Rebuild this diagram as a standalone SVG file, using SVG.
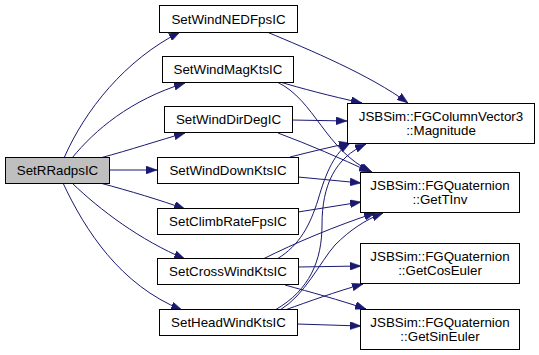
<svg xmlns="http://www.w3.org/2000/svg" width="539" height="355" viewBox="0 0 539 355">
  <style>
    .node rect { fill: #ffffff; stroke: #000000; stroke-width: 1; }
    .node.root rect { fill: #bfbfbf; }
    .node text { font-family: "Liberation Sans", Arial, sans-serif; font-size: 13.33px; fill: #000000; text-anchor: middle; }
    .edges path { fill: none; stroke: #191970; stroke-width: 1; marker-end: url(#arrow); }
  </style>
  <defs>
    <marker id="arrow" markerUnits="userSpaceOnUse" markerWidth="11" markerHeight="8" refX="11" refY="4" orient="auto">
      <path d="M0,0 L11,4 L0,8 Z" fill="#191970" stroke="#191970" stroke-width="0.5"/>
    </marker>
  </defs>
  <rect width="539" height="355" fill="#ffffff"/>

  <g class="edges">
    <!-- SetRRadpsIC callees -->
    <path d="M64,158 C85,110 125,60 180,32"/>
    <path d="M72,158 C95,130 130,100 185,83"/>
    <path d="M100,158 C130,150 160,140 185,133"/>
    <path d="M109,170 L157,170"/>
    <path d="M100,183 C130,191 160,200 185,209"/>
    <path d="M72,183 C100,210 140,240 185,259"/>
    <path d="M63,183 C85,230 120,285 182,310"/>
    <!-- SetWindNEDFpsIC -->
    <path d="M267,32 C310,50 370,75 408,103"/>
    <!-- SetWindMagKtsIC -->
    <path d="M280,82 C300,88 330,96 362,103"/>
    <path d="M277,82 C315,100 325,150 372,172"/>
    <!-- SetWindDirDegIC -->
    <path d="M292,120 L347,121"/>
    <path d="M278,133 C310,145 340,158 370,172"/>
    <!-- SetWindDownKtsIC -->
    <path d="M290,157 C310,152 330,147 350,143"/>
    <path d="M298,177 L361,183"/>
    <!-- SetClimbRateFpsIC -->
    <path d="M298,212 L361,202"/>
    <!-- SetCrossWindKtsIC -->
    <path d="M263,259 C295,243 335,226 375,213"/>
    <path d="M277,259 C300,245 310,225 318,200 C326,172 335,152 350,143"/>
    <path d="M298,267 L361,266"/>
    <path d="M285,285 C310,292 340,300 366,309"/>
    <!-- SetHeadWindKtsIC -->
    <path d="M275,310 C310,290 322,260 322,225 C322,185 335,158 366,144"/>
    <path d="M280,310 C305,295 320,262 335,245 C350,230 365,220 383,213"/>
    <path d="M285,310 C310,301 335,292 363,284"/>
    <path d="M297,324 L361,326"/>
  </g>

  <g id="SetRRadpsIC" class="node root">
    <rect x="5.5" y="157.5" width="104" height="26"/>
    <text x="57.5" y="175">SetRRadpsIC</text>
  </g>
  <g id="SetWindNEDFpsIC" class="node">
    <rect x="159.5" y="5.5" width="138" height="27"/>
    <text x="228.5" y="23.5">SetWindNEDFpsIC</text>
  </g>
  <g id="SetWindMagKtsIC" class="node">
    <rect x="162.5" y="56.5" width="131" height="26"/>
    <text x="228" y="74">SetWindMagKtsIC</text>
  </g>
  <g id="SetWindDirDegIC" class="node">
    <rect x="164.5" y="106.5" width="128" height="26"/>
    <text x="228.5" y="124">SetWindDirDegIC</text>
  </g>
  <g id="SetWindDownKtsIC" class="node">
    <rect x="157.5" y="157.5" width="141" height="26"/>
    <text x="228" y="175">SetWindDownKtsIC</text>
  </g>
  <g id="SetClimbRateFpsIC" class="node">
    <rect x="157.5" y="208.5" width="141" height="26"/>
    <text x="228" y="226">SetClimbRateFpsIC</text>
  </g>
  <g id="SetCrossWindKtsIC" class="node">
    <rect x="157.5" y="258.5" width="141" height="26"/>
    <text x="228" y="276">SetCrossWindKtsIC</text>
  </g>
  <g id="SetHeadWindKtsIC" class="node">
    <rect x="159.5" y="309.5" width="138" height="26"/>
    <text x="228.5" y="327">SetHeadWindKtsIC</text>
  </g>
  <g id="Magnitude" class="node">
    <rect x="347.5" y="103.5" width="187" height="40"/>
    <text x="441" y="120.5">JSBSim::FGColumnVector3</text>
    <text x="441" y="135">::Magnitude</text>
  </g>
  <g id="GetTInv" class="node">
    <rect x="360.5" y="172.5" width="159" height="40"/>
    <text x="440" y="189.5">JSBSim::FGQuaternion</text>
    <text x="440" y="204">::GetTInv</text>
  </g>
  <g id="GetCosEuler" class="node">
    <rect x="360.5" y="243.5" width="159" height="40"/>
    <text x="440" y="260.5">JSBSim::FGQuaternion</text>
    <text x="440" y="275">::GetCosEuler</text>
  </g>
  <g id="GetSinEuler" class="node">
    <rect x="360.5" y="309.5" width="159" height="40"/>
    <text x="440" y="326.5">JSBSim::FGQuaternion</text>
    <text x="440" y="341">::GetSinEuler</text>
  </g>
</svg>
